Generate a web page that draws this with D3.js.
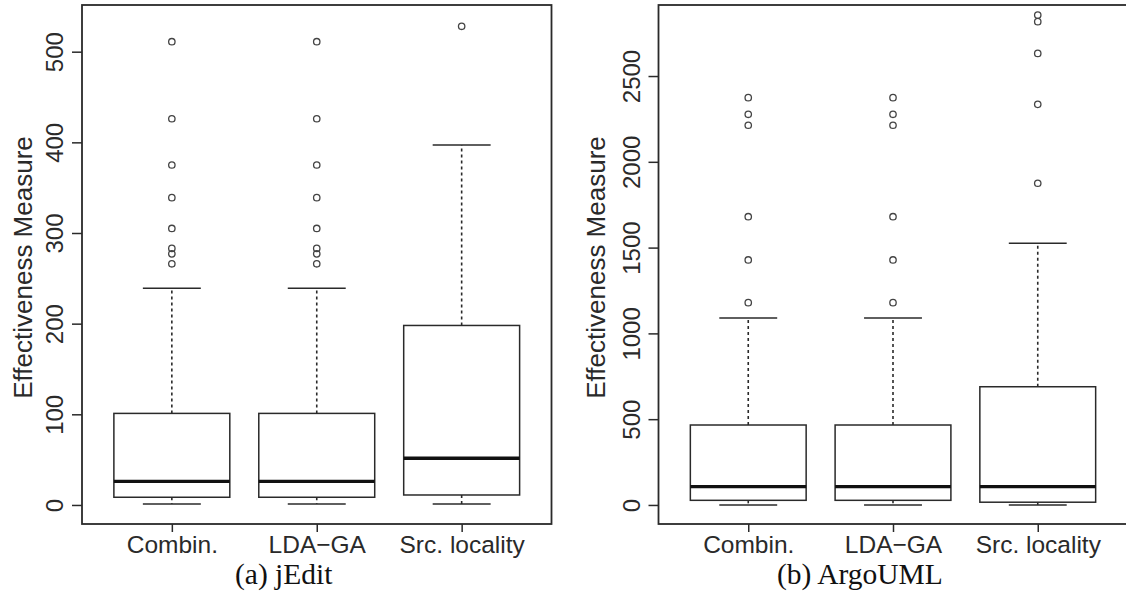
<!DOCTYPE html>
<html>
<head>
<meta charset="utf-8">
<script src="https://cdn.jsdelivr.net/npm/d3@7"></script>
<style>
  html, body { margin: 0; padding: 0; background: #fff; }
  svg { display: block; }
</style>
</head>
<body>
<svg id="chart" width="1126" height="596"></svg>
<script>
// ---- data ----
const categories = ["Combin.", "LDA\u2212GA", "Src. locality"];

// [lower whisker, Q1, median, Q3, upper whisker]
const jeditStats = [
  [1, 8.5, 26, 101, 239],
  [1, 8.5, 26, 101, 239],
  [1, 11, 51.5, 198, 397]
];
const jeditOutliers = [
  [266, 277, 283, 305, 339, 375, 426, 511],
  [266, 277, 283, 305, 339, 375, 426, 511],
  [528]
];
const jeditTicks = [0, 100, 200, 300, 400, 500];

const argoStats = [
  [0, 27, 107, 466, 1090],
  [0, 27, 107, 466, 1090],
  [0, 16, 107, 689, 1525]
];
const argoOutliers = [
  [1179, 1428, 1680, 2213, 2277, 2374],
  [1179, 1428, 1680, 2213, 2277, 2374],
  [1875, 2335, 2632, 2817, 2855]
];
const argoTicks = [0, 500, 1000, 1500, 2000, 2500];

const yTitle = "Effectiveness Measure";
const captions = ["(a) jEdit", "(b) ArgoUML"];

// ---- drawing ----
const svg = d3.select("#chart");
const sans = "'Liberation Sans', Arial, Helvetica, sans-serif";
const serif = "'Liberation Serif', 'Times New Roman', serif";
const ink = "#2a2a2a";

function panel(cfg) {
  const g = svg.append("g");
  const x = d3.scaleLinear().domain([0.38, 3.62]).range([cfg.left, cfg.right]);
  const y = d3.scaleLinear().domain(cfg.yDomain).range([cfg.bottom, cfg.top]);
  const boxW = x(1.4) - x(1);
  const capW = x(1.2) - x(1);

  // frame
  g.append("rect")
    .attr("x", cfg.left).attr("y", cfg.top)
    .attr("width", cfg.right - cfg.left).attr("height", cfg.bottom - cfg.top)
    .attr("fill", "none").attr("stroke", ink).attr("stroke-width", 1.8);

  // y axis
  const yAxis = d3.axisLeft(y).tickValues(cfg.ticks).tickFormat(d3.format("d"))
    .tickSize(10).tickSizeOuter(0).tickPadding(9);
  const ya = g.append("g").attr("transform", `translate(${cfg.left},0)`).call(yAxis);
  ya.select(".domain").remove();
  ya.selectAll(".tick line").attr("stroke", ink).attr("stroke-width", 1.5);
  ya.selectAll(".tick text")
    .attr("fill", ink)
    .style("font-family", sans).style("font-size", "24px")
    .attr("x", null).attr("dy", null)
    .attr("text-anchor", "middle")
    .attr("transform", "translate(-19,0) rotate(-90)")
    .attr("y", 0);

  // x axis
  const xAxis = d3.axisBottom(x).tickValues([1, 2, 3]).tickFormat((d, i) => categories[i])
    .tickSize(8).tickSizeOuter(0).tickPadding(4);
  const xa = g.append("g").attr("transform", `translate(0,${cfg.bottom})`).call(xAxis);
  xa.select(".domain").remove();
  xa.selectAll(".tick line").attr("stroke", ink).attr("stroke-width", 1.5);
  xa.selectAll(".tick text")
    .attr("fill", ink)
    .style("font-family", sans).style("font-size", "24.5px");

  // y title
  g.append("text")
    .attr("transform", `translate(${cfg.titleX},${(cfg.top + cfg.bottom) / 2 + 3}) rotate(-90)`)
    .attr("text-anchor", "middle")
    .attr("fill", ink)
    .style("font-family", sans).style("font-size", "26px")
    .text(yTitle);

  // boxes
  cfg.stats.forEach((s, i) => {
    const cx = x(i + 1);
    const [lo, q1, med, q3, hi] = s;
    // whiskers
    g.append("line").attr("x1", cx).attr("x2", cx).attr("y1", y(q3)).attr("y2", y(hi))
      .attr("stroke", ink).attr("stroke-width", 1.6).attr("stroke-dasharray", "3,3");
    g.append("line").attr("x1", cx).attr("x2", cx).attr("y1", y(q1)).attr("y2", y(lo))
      .attr("stroke", ink).attr("stroke-width", 1.6).attr("stroke-dasharray", "3,3");
    // caps
    [lo, hi].forEach(v => {
      g.append("line").attr("x1", cx - capW).attr("x2", cx + capW).attr("y1", y(v)).attr("y2", y(v))
        .attr("stroke", ink).attr("stroke-width", 1.6);
    });
    // box
    g.append("rect").attr("x", cx - boxW).attr("y", y(q3))
      .attr("width", boxW * 2).attr("height", y(q1) - y(q3))
      .attr("fill", "#fff").attr("stroke", ink).attr("stroke-width", 1.5);
    // median
    g.append("line").attr("x1", cx - boxW).attr("x2", cx + boxW).attr("y1", y(med)).attr("y2", y(med))
      .attr("stroke", "#111").attr("stroke-width", 3.4);
    // outliers
    g.selectAll(null).data(cfg.outliers[i]).enter().append("circle")
      .attr("cx", cx).attr("cy", d => y(d)).attr("r", 3.2)
      .attr("fill", "none").attr("stroke", "#444").attr("stroke-width", 1.3);
  });

  // caption
  g.append("text")
    .attr("x", cfg.capX).attr("y", 584)
    .attr("fill", "#111")
    .style("font-family", serif).style("font-size", "29.5px")
    .text(cfg.caption);
}

panel({
  left: 82, right: 551.5, top: 5, bottom: 524,
  yDomain: [-21, 551.5], ticks: jeditTicks,
  stats: jeditStats, outliers: jeditOutliers,
  titleX: 32, capX: 235, caption: captions[0]
});
panel({
  left: 658.5, right: 1127.5, top: 5, bottom: 524,
  yDomain: [-111, 2914], ticks: argoTicks,
  stats: argoStats, outliers: argoOutliers,
  titleX: 605, capX: 777, caption: captions[1]
});
</script>
</body>
</html>
